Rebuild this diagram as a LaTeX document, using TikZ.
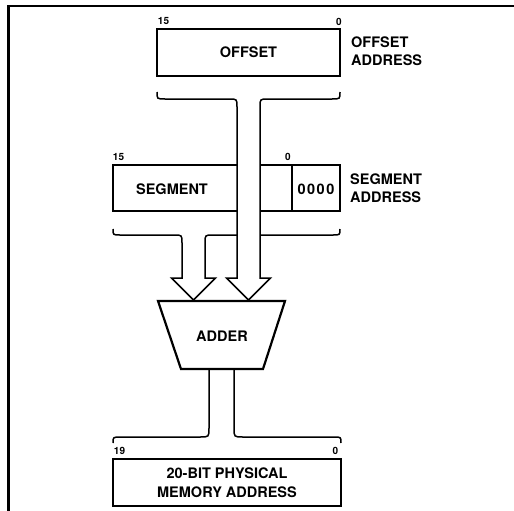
\documentclass[tikz,border=0pt]{standalone}
\usepackage{fontspec}
\setmainfont{TeX Gyre Heros}
\begin{document}
\begin{tikzpicture}[x=1pt,y=-1pt,
  box/.style={draw, line width=2.2pt, inner sep=0pt},
  bus/.style={line width=1.5pt, line join=miter},
  lbl/.style={font=\fontsize{14.5}{18}\selectfont\bfseries, inner sep=0pt},
  bit/.style={font=\fontsize{10}{12}\selectfont\bfseries, inner sep=0pt}]
\useasboundingbox (0,0) rectangle (514,511);
% frame
\draw[line width=2.8pt] (8.5,511) -- (8.5,6) -- (514,6);
% offset register
\node[box, lbl, minimum width=183pt, minimum height=47pt] (off) at (248.5,52.5) {OFFSET};
\node[bit] (off15) at (163.5,21.5) {15};
\node[bit] (off0) at (339,21.5) {0};
\node[lbl, anchor=west, align=left] (offlbl) at (351,51) {OFFSET\\ADDRESS};
% offset brace, bus and arrow
\draw[bus] (157,92) .. controls (157,99) .. (165,99) -- (229,99) .. controls (237,99) .. (237,107)
  -- (237,278) -- (226.5,278) -- (248.5,300) -- (270.5,278) -- (260,278)
  -- (260,107) .. controls (260,99) .. (268,99) -- (332,99) .. controls (340,99) .. (340,92);
% segment register (split by the offset bus)
\node[lbl] (seg) at (172,189) {SEGMENT};
\node[lbl] (zeros) at (316,189) {0\kern1.5pt0\kern1.5pt0\kern1.5pt0};
\draw[line width=2.2pt] (237,165) -- (113,165) -- (113,211) -- (237,211);
\draw[line width=2.2pt] (260,165) -- (340,165) -- (340,211) -- (260,211);
\draw[line width=2.2pt] (292,165) -- (292,211);
\node[bit] (seg15) at (118.5,157) {15};
\node[bit] (seg0) at (288,157) {0};
\node[lbl, anchor=west, align=left] (seglbl) at (350,188.5) {SEGMENT\\ADDRESS};
% segment brace, bus and arrow
\draw[bus] (113,229) .. controls (113,235) .. (120,235) -- (174,235) .. controls (182,235) .. (182,243)
  -- (182,278) -- (171.5,278) -- (193.5,300) -- (215.5,278) -- (205,278)
  -- (205,243) .. controls (205,235) .. (213,235) -- (237,235);
\draw[bus] (260,235) -- (333,235) .. controls (340,235) .. (340,229);
% adder
\draw[line width=2.2pt, line join=miter] (158,301) -- (285,301) -- (263,369) -- (181,369) -- cycle;
\node[lbl] (adder) at (222,336.5) {ADDER};
% output bus and brace
\draw[bus] (209,369) -- (209,428) .. controls (209,437) .. (200,437) -- (121,437) .. controls (113,437) .. (113,443);
\draw[bus] (234,369) -- (234,428) .. controls (234,437) .. (243,437) -- (334,437) .. controls (341,437) .. (341,443);
\node[bit] (phys19) at (119.5,450.5) {19};
\node[bit] (phys0) at (335.5,450.5) {0};
% physical address register
\node[box, lbl, align=center, minimum width=228pt, minimum height=46.5pt, font=\fontsize{14.5}{18.5}\selectfont\bfseries] (phys) at (227,482.5) {20-BIT PHYSICAL\\MEMORY ADDRESS};
\end{tikzpicture}
\end{document}
